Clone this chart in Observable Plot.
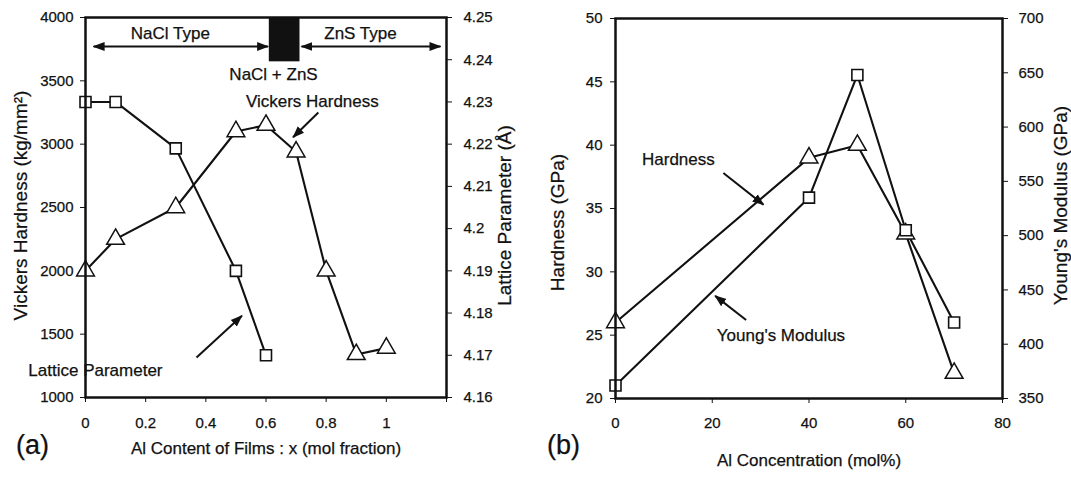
<!DOCTYPE html>
<html>
<head>
<meta charset="utf-8">
<script src="https://cdn.jsdelivr.net/npm/d3@7"></script>
<script src="https://cdn.jsdelivr.net/npm/@observablehq/plot@0.6"></script>
<style>
  html, body { margin: 0; padding: 0; background: #fff; }
  #wrap { display: flex; flex-direction: row; width: 1071px; height: 480px; }
  #wrap svg { display: block; }
  #wrap svg text { stroke: #111; stroke-width: 0.25px; }
</style>
</head>
<body>
<div id="wrap"></div>
<script>
// ---------- Panel (a) data ----------
const vickersX = [0, 0.1, 0.3, 0.5, 0.6, 0.7, 0.8, 0.9, 1.0];
const vickers = [2000, 2250, 2500, 3100, 3150, 2940, 2000, 1340, 1390];
const latticeX = [0, 0.1, 0.3, 0.5, 0.6];
const lattice = [4.23, 4.23, 4.219, 4.19, 4.17];
const aXTicks = [0, 0.2, 0.4, 0.6, 0.8, 1.0, 1.2];
const aXLabels = ["0", "0.2", "0.4", "0.6", "0.8", "1", ""];
const aYTicks = [1000, 1500, 2000, 2500, 3000, 3500, 4000];
const aY2Ticks = [4.16, 4.17, 4.18, 4.19, 4.2, 4.21, 4.22, 4.23, 4.24, 4.25];
const aYDomain = [1000, 4000];
const aY2Domain = [4.16, 4.25];

// annotations (data coordinates)
const phaseLabels = [{x: 0.282, y: 3874, t: "NaCl Type"}, {x: 0.914, y: 3874, t: "ZnS Type"}, {x: 0.625, y: 3550, t: "NaCl + ZnS"}];
const phaseArrows = [{x1: 0.027, x2: 0.607, y: 3771}, {x1: 0.718, x2: 1.18, y: 3771}];
const mixedBand = [{x1: 0.611, x2: 0.713, y1: 3650, y2: 4000}];
const aNotes = [{x: 0.754, y: 3335, t: "Vickers Hardness", a: "middle"}, {x: 0.033, y: 1213, t: "Lattice Parameter", a: "start"}];
const aPointers = [{x1: 0.774, y1: 3250, x2: 0.69, y2: 3055}, {x1: 0.369, y1: 1316, x2: 0.52, y2: 1645}];

// ---------- Panel (b) data ----------
const concX = [0, 40, 50, 60, 70];
const hardness = [26, 39, 40, 33, 22];
const youngs = [362, 535, 648, 505, 420];
const bXTicks = [0, 20, 40, 60, 80];
const bYTicks = [20, 25, 30, 35, 40, 45, 50];
const bY2Ticks = [350, 400, 450, 500, 550, 600, 650, 700];
const bYDomain = [20, 50];
const bY2Domain = [350, 700];
const bNotes = [{x: 13.0, y: 38.9, t: "Hardness"}, {x: 34.2, y: 25.0, t: "Young's Modulus"}];
const bPointers = [{x1: 22.3, y1: 37.8, x2: 30.6, y2: 35.3}, {x1: 27.0, y1: 26.2, x2: 20.6, y2: 28.1}];

// ---------- helpers ----------
const FONT = "'Liberation Sans', Arial, Helvetica, sans-serif";
const INK = "#111";
function toPrimary(v, d2, d1) { return d1[0] + (v - d2[0]) / (d2[1] - d2[0]) * (d1[1] - d1[0]); }
function fromPrimary(v, d2, d1) { return d2[0] + (v - d1[0]) / (d1[1] - d1[0]) * (d2[1] - d2[0]); }

function headMarker(color) {
  const ns = "http://www.w3.org/2000/svg";
  const m = document.createElementNS(ns, "marker");
  m.setAttribute("viewBox", "-6 -5 12 10");
  m.setAttribute("markerWidth", 12);
  m.setAttribute("markerHeight", 10);
  m.setAttribute("refX", 5);
  m.setAttribute("refY", 0);
  m.setAttribute("markerUnits", "userSpaceOnUse");
  m.setAttribute("orient", "auto-start-reverse");
  const p = document.createElementNS(ns, "path");
  p.setAttribute("d", "M-6,-4.5L6,0L-6,4.5Z");
  p.setAttribute("fill", color === "currentColor" ? INK : color);
  p.setAttribute("stroke", "none");
  m.appendChild(p);
  return m;
}

const lineStyle = {stroke: INK, strokeWidth: 2.1};
const sqStyle = {symbol: "square", r: 6.2, fill: "white", stroke: INK, strokeWidth: 1.6};
const triStyle = {symbol: "triangle", r: 6.6, fill: "white", stroke: INK, strokeWidth: 1.5};
const txt = {fill: INK, textAnchor: "middle"};

function panelA(marker) {
  const vData = vickersX.map((x, i) => ({x, y: vickers[i]}));
  const lData = latticeX.map((x, i) => ({x, y: toPrimary(lattice[i], aY2Domain, aYDomain)}));
  return Plot.plot({
    width: 535, height: 480,
    marginLeft: 85, marginRight: 89, marginTop: 17, marginBottom: 83,
    x: {domain: [0, 1.2]},
    y: {domain: aYDomain},
    style: {fontFamily: FONT, fontSize: "15px", color: INK, background: "white"},
    marks: [
      Plot.axisX(aXTicks, {anchor: "bottom", tickSize: 5, tickPadding: 15, tickFormat: (d, i) => aXLabels[i], label: null}),
      Plot.axisY(aYTicks, {anchor: "left", tickSize: 5, tickPadding: 7, label: null, tickFormat: d => String(d)}),
      Plot.axisY(aY2Ticks.map(v => toPrimary(v, aY2Domain, aYDomain)), {anchor: "right", tickSize: 5, tickPadding: 12, label: null,
        tickFormat: d => String(+fromPrimary(d, aY2Domain, aYDomain).toFixed(2))}),
      Plot.rect(mixedBand, {x1: "x1", x2: "x2", y1: "y1", y2: "y2", fill: INK}),
      Plot.line(vData, {x: "x", y: "y", ...lineStyle}),
      Plot.line(lData, {x: "x", y: "y", ...lineStyle}),
      Plot.dot(vData, {x: "x", y: "y", ...triStyle}),
      Plot.dot(lData, {x: "x", y: "y", ...sqStyle}),
      Plot.link(phaseArrows, {x1: "x1", x2: "x2", y1: "y", y2: "y", stroke: INK, strokeWidth: 2, markerStart: marker, markerEnd: marker}),
      Plot.link(aPointers, {x1: "x1", y1: "y1", x2: "x2", y2: "y2", stroke: INK, strokeWidth: 2, markerEnd: marker}),
      Plot.text(phaseLabels, {x: "x", y: "y", text: "t", fontSize: 17, ...txt}),
      Plot.text(aNotes, {x: "x", y: "y", text: "t", fontSize: 17, fill: INK, textAnchor: "a"}),
      Plot.text(["Vickers Hardness (kg/mm²)"], {frameAnchor: "left", dx: -65, dy: -2, rotate: -90, fontSize: 19, ...txt}),
      Plot.text(["Lattice Parameter (Å)"], {frameAnchor: "right", dx: 58, dy: 8, rotate: -90, fontSize: 19, ...txt}),
      Plot.text(["Al Content of Films : x (mol fraction)"], {frameAnchor: "bottom", dy: 56, fontSize: 17, ...txt}),
      Plot.text(["(a)"], {frameAnchor: "bottom-left", dx: -53, dy: 56, fontSize: 27, ...txt}),
      Plot.frame({stroke: INK, strokeWidth: 2.5})
    ]
  });
}

function panelB(marker) {
  const hData = concX.map((x, i) => ({x, y: hardness[i]}));
  const yData = concX.map((x, i) => ({x, y: toPrimary(youngs[i], bY2Domain, bYDomain)}));
  return Plot.plot({
    width: 536, height: 480,
    marginLeft: 80, marginRight: 69, marginTop: 18, marginBottom: 82,
    x: {domain: [0, 80]},
    y: {domain: bYDomain},
    style: {fontFamily: FONT, fontSize: "15px", color: INK, background: "white"},
    marks: [
      Plot.axisX(bXTicks, {anchor: "bottom", tickSize: 5, tickPadding: 14, label: null}),
      Plot.axisY(bYTicks, {anchor: "left", tickSize: 5, tickPadding: 8, label: null}),
      Plot.axisY(bY2Ticks.map(v => toPrimary(v, bY2Domain, bYDomain)), {anchor: "right", tickSize: 5, tickPadding: 11, label: null,
        tickFormat: d => String(Math.round(fromPrimary(d, bY2Domain, bYDomain)))}),
      Plot.line(hData, {x: "x", y: "y", ...lineStyle}),
      Plot.line(yData, {x: "x", y: "y", ...lineStyle}),
      Plot.dot(hData, {x: "x", y: "y", ...triStyle}),
      Plot.dot(yData, {x: "x", y: "y", ...sqStyle}),
      Plot.link(bPointers, {x1: "x1", y1: "y1", x2: "x2", y2: "y2", stroke: INK, strokeWidth: 2, markerEnd: marker}),
      Plot.text(bNotes, {x: "x", y: "y", text: "t", fontSize: 17, ...txt}),
      Plot.text(["Hardness (GPa)"], {frameAnchor: "left", dx: -58, dy: 14, rotate: -90, fontSize: 19, ...txt}),
      Plot.text(["Young's Modulus (GPa)"], {frameAnchor: "right", dx: 58, dy: -3, rotate: -90, fontSize: 19, ...txt}),
      Plot.text(["Al Concentration (mol%)"], {frameAnchor: "bottom", dy: 67, fontSize: 17, ...txt}),
      Plot.text(["(b)"], {frameAnchor: "bottom-left", dx: -52, dy: 55, fontSize: 27, ...txt}),
      Plot.frame({stroke: INK, strokeWidth: 2.5})
    ]
  });
}

const wrap = document.getElementById("wrap");
let a, b;
try { a = panelA(headMarker); b = panelB(headMarker); }
catch (e) { a = panelA("arrow"); b = panelB("arrow"); }
wrap.appendChild(a);
wrap.appendChild(b);
</script>
</body>
</html>
